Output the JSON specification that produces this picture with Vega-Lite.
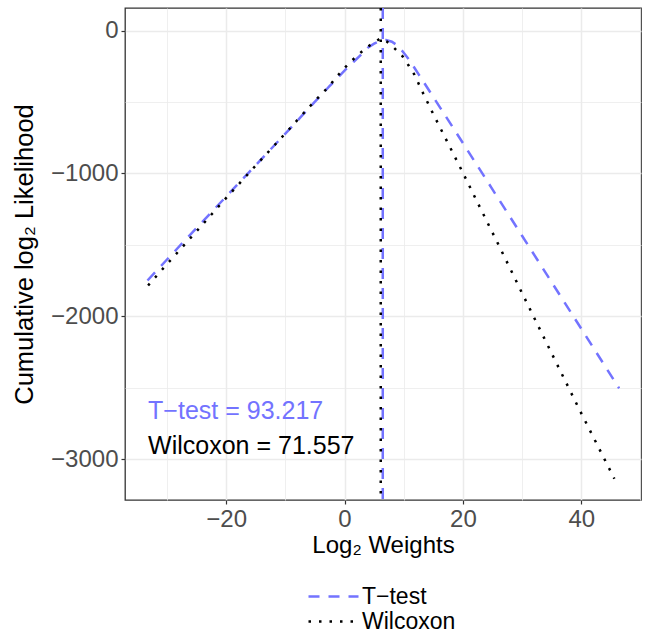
{
  "$schema": "https://vega.github.io/schema/vega-lite/v6.json",
  "width": 516,
  "height": 492,
  "autosize": {"type": "none"},
  "padding": {"left": 125, "top": 8, "right": 4, "bottom": 135},
  "background": "white",
  "config": {
    "view": {"stroke": "#333333", "strokeWidth": 1.3},
    "font": "Liberation Sans",
    "axis": {
      "domain": false,
      "labelFont": "Liberation Sans",
      "labelFontSize": 24,
      "labelColor": "#4D4D4D",
      "titleFont": "Liberation Sans",
      "titleFontSize": 24,
      "titleFontWeight": "normal",
      "titleColor": "black",
      "tickColor": "#333333",
      "tickSize": 4,
      "tickWidth": 1.2,
      "labelPadding": 3,
      "gridColor": "#EBEBEB"
    },
    "legend": {
      "title": null,
      "symbolType": "M-5,0H5",
      "symbolSize": 100,
      "symbolStrokeWidth": 2.5,
      "labelFont": "Liberation Sans",
      "labelFontSize": 23,
      "labelColor": "black",
      "labelOffset": 17,
      "rowPadding": 1
    }
  },
  "datasets": {
    "curves": [
      {"method": "T−test", "x": -33.3, "y": -1750},
      {"method": "T−test", "x": -30, "y": -1603},
      {"method": "T−test", "x": -25, "y": -1382},
      {"method": "T−test", "x": -20, "y": -1162},
      {"method": "T−test", "x": -15, "y": -942},
      {"method": "T−test", "x": -10, "y": -722},
      {"method": "T−test", "x": -7.5, "y": -610},
      {"method": "T−test", "x": -5, "y": -498},
      {"method": "T−test", "x": -2.5, "y": -388},
      {"method": "T−test", "x": 0, "y": -280},
      {"method": "T−test", "x": 1.5, "y": -220},
      {"method": "T−test", "x": 3, "y": -160},
      {"method": "T−test", "x": 4, "y": -118},
      {"method": "T−test", "x": 5, "y": -92},
      {"method": "T−test", "x": 6, "y": -72},
      {"method": "T−test", "x": 7, "y": -66},
      {"method": "T−test", "x": 8, "y": -78},
      {"method": "T−test", "x": 9, "y": -106},
      {"method": "T−test", "x": 10, "y": -155},
      {"method": "T−test", "x": 11.1, "y": -215},
      {"method": "T−test", "x": 12.5, "y": -305},
      {"method": "T−test", "x": 15, "y": -465},
      {"method": "T−test", "x": 20, "y": -787},
      {"method": "T−test", "x": 25, "y": -1112},
      {"method": "T−test", "x": 30, "y": -1437},
      {"method": "T−test", "x": 35, "y": -1762},
      {"method": "T−test", "x": 40, "y": -2087},
      {"method": "T−test", "x": 46.4, "y": -2505},
      {"method": "Wilcoxon", "x": -33.2, "y": -1785},
      {"method": "Wilcoxon", "x": -30, "y": -1635},
      {"method": "Wilcoxon", "x": -25, "y": -1405},
      {"method": "Wilcoxon", "x": -20, "y": -1172},
      {"method": "Wilcoxon", "x": -15, "y": -945},
      {"method": "Wilcoxon", "x": -10, "y": -720},
      {"method": "Wilcoxon", "x": -7.5, "y": -605},
      {"method": "Wilcoxon", "x": -5, "y": -492},
      {"method": "Wilcoxon", "x": -2.5, "y": -385},
      {"method": "Wilcoxon", "x": -1.5, "y": -332},
      {"method": "Wilcoxon", "x": 0, "y": -262},
      {"method": "Wilcoxon", "x": 1, "y": -219},
      {"method": "Wilcoxon", "x": 2.5, "y": -163},
      {"method": "Wilcoxon", "x": 3.75, "y": -117},
      {"method": "Wilcoxon", "x": 5, "y": -84},
      {"method": "Wilcoxon", "x": 6.1, "y": -54},
      {"method": "Wilcoxon", "x": 7.1, "y": -75},
      {"method": "Wilcoxon", "x": 8.5, "y": -126},
      {"method": "Wilcoxon", "x": 9.8, "y": -180},
      {"method": "Wilcoxon", "x": 10.8, "y": -243},
      {"method": "Wilcoxon", "x": 11.8, "y": -308},
      {"method": "Wilcoxon", "x": 13.3, "y": -441},
      {"method": "Wilcoxon", "x": 15, "y": -585},
      {"method": "Wilcoxon", "x": 19.8, "y": -979},
      {"method": "Wilcoxon", "x": 23, "y": -1248},
      {"method": "Wilcoxon", "x": 26.3, "y": -1523},
      {"method": "Wilcoxon", "x": 30, "y": -1838},
      {"method": "Wilcoxon", "x": 35, "y": -2260},
      {"method": "Wilcoxon", "x": 39.8, "y": -2663},
      {"method": "Wilcoxon", "x": 45.6, "y": -3138}
    ],
    "vlines": [
      {"method": "T−test", "x": 6.46},
      {"method": "Wilcoxon", "x": 6.12}
    ],
    "labels": [
      {"method": "T−test", "x": -33.2, "y": -2666, "text": "T−test = 93.217"},
      {"method": "Wilcoxon", "x": -33.2, "y": -2908, "text": "Wilcoxon = 71.557"}
    ]
  },
  "layer": [
    {
      "data": {"name": "curves"},
      "mark": {"type": "line", "strokeWidth": 2.5},
      "encoding": {
        "x": {
          "field": "x", "type": "quantitative",
          "scale": {"domain": [-37.1, 50.1], "nice": false, "zero": false},
          "axis": {
            "title": "Log₂ Weights",
            "format": "d",
            "values": [-30, -20, -10, 0, 10, 20, 30, 40, 50],
            "labelExpr": "datum.value % 20 === 0 ? datum.label : ''",
            "tickOpacity": {"condition": {"test": "datum.value % 20 !== 0", "value": 0}, "value": 1},
            "gridWidth": {"condition": {"test": "datum.value % 20 !== 0", "value": 0.8}, "value": 1.5},
            "titlePadding": 2
          }
        },
        "y": {
          "field": "y", "type": "quantitative",
          "scale": {"domain": [-3287, 158], "nice": false, "zero": false},
          "axis": {
            "title": "Cumulative log₂ Likelihood",
            "titleFontSize": 25.5,
            "format": "d",
            "values": [-3000, -2500, -2000, -1500, -1000, -500, 0],
            "labelExpr": "datum.value % 1000 === 0 ? datum.label : ''",
            "tickOpacity": {"condition": {"test": "datum.value % 1000 !== 0", "value": 0}, "value": 1},
            "gridWidth": {"condition": {"test": "datum.value % 1000 !== 0", "value": 0.8}, "value": 1.5},
            "titlePadding": 13
          }
        },
        "color": {
          "field": "method", "type": "nominal",
          "scale": {"domain": ["T−test", "Wilcoxon"], "range": ["#7373FF", "#000000"]},
          "legend": {"orient": "none", "legendX": 197, "legendY": 577}
        },
        "strokeDash": {
          "field": "method", "type": "nominal",
          "scale": {"domain": ["T−test", "Wilcoxon"], "range": [[11, 9], [2.5, 8]]},
          "legend": {"orient": "none", "legendX": 197, "legendY": 577}
        }
      }
    },
    {
      "data": {"name": "vlines"},
      "mark": {"type": "rule", "strokeWidth": 2.5},
      "encoding": {
        "x": {"field": "x", "type": "quantitative"},
        "color": {"field": "method", "type": "nominal"},
        "strokeDash": {"field": "method", "type": "nominal"}
      }
    },
    {
      "data": {"name": "labels"},
      "mark": {"type": "text", "align": "left", "baseline": "middle", "fontSize": 25, "font": "Liberation Sans"},
      "encoding": {
        "x": {"field": "x", "type": "quantitative"},
        "y": {"field": "y", "type": "quantitative"},
        "text": {"field": "text"},
        "color": {"condition": {"test": "datum.method === 'T−test'", "value": "#7373FF"}, "value": "#000000"}
      }
    }
  ]
}
